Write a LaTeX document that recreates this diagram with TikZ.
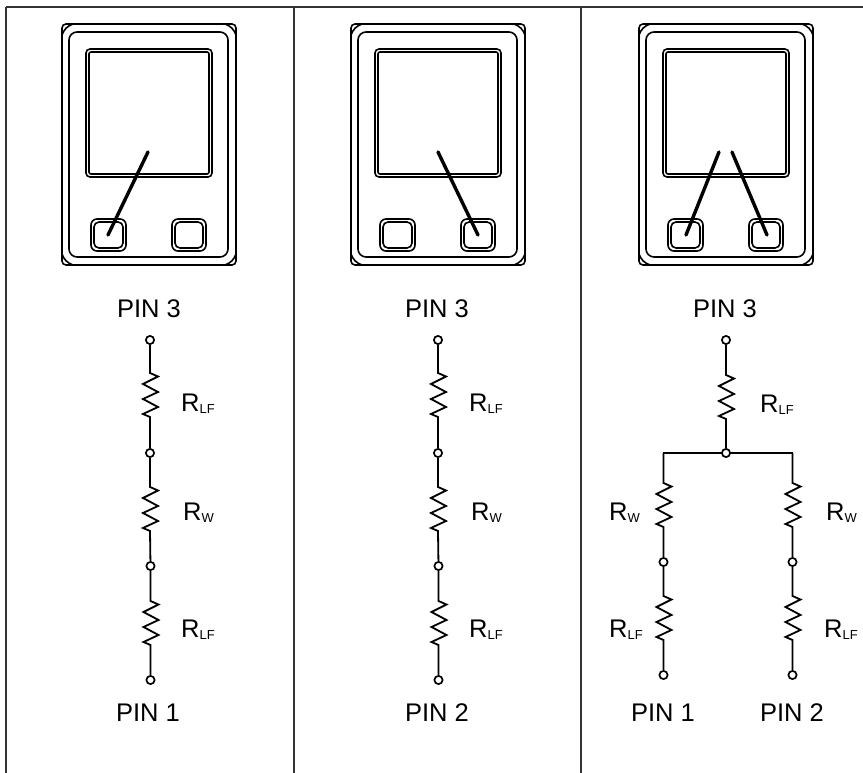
\documentclass[tikz,border=0pt]{standalone}
\usepackage{fontspec}
\setmainfont{Liberation Sans}
\usetikzlibrary{calc}
\tikzset{
  wire/.style={line width=1.8pt,black},
  frameline/.style={line width=1.5pt,black!80},
  bodyline/.style={line width=1.6pt,black},
  pointer/.style={line width=3.4pt,black,line cap=round},
  term/.style={circle,draw=black,line width=1.7pt,fill=white,minimum size=8.2pt,inner sep=0pt},
  pinlabel/.style={font=\fontsize{25.5}{28}\selectfont,inner sep=0pt,anchor=base},
  rlabel/.style={font=\fontsize{25.5}{28}\selectfont,inner sep=0pt,anchor=base west}
}
\newcommand{\resistor}[3]{% from node #1 to node #2, start of zigzag #3 below #1
  \draw[wire,line join=miter] (#1) -- ++(0,#3) -- ++(8,3.5) -- ++(-15,7.5) -- ++(15,8) -- ++(-15,7) -- ++(15,8) -- ++(-15,7) -- ++(7,3) -- (#2);}
\newcommand{\rlf}{R\raisebox{-2.5pt}{\fontsize{13}{14}\selectfont LF}}
\newcommand{\rw}{R\raisebox{-2.5pt}{\fontsize{13}{14}\selectfont W}}
\newcommand{\devbody}{%
  \draw[bodyline,rounded corners=4pt] (62,24) rectangle (236,265);
  \draw[bodyline,rounded corners=8pt] (69,32) rectangle (228,257);
  \draw[bodyline] (62,35) to[bend left=25] (73,24);
  \draw[bodyline] (225,24) to[bend left=25] (236,35);
  \draw[bodyline] (62,254) to[bend right=25] (73,265);
  \draw[bodyline] (225,265) to[bend right=25] (236,254);
  \draw[bodyline,rounded corners=4pt] (86,49) rectangle (212,177);
  \draw[bodyline,rounded corners=2pt] (89,52) rectangle (209,174);
  \draw[bodyline,rounded corners=6pt] (91,219) rectangle (126,251);
  \draw[bodyline,rounded corners=5pt] (94,222) rectangle (123,248);
  \draw[bodyline,rounded corners=6pt] (172,219) rectangle (206,251);
  \draw[bodyline,rounded corners=5pt] (175,222) rectangle (203,248);
}
\begin{document}
\begin{tikzpicture}[x=1pt,y=-1pt]
\useasboundingbox (0,0) rectangle (863,773);
% frame
\coordinate (tl) at (6,7); \coordinate (tr) at (863,7);
\coordinate (m1t) at (294,7); \coordinate (m2t) at (581,7);
\coordinate (lb) at (6,773); \coordinate (m1b) at (294,773); \coordinate (m2b) at (581,773);
\draw[frameline] (tl) -- (tr);
\draw[frameline] (tl) -- (lb);
\draw[frameline] (m1t) -- (m1b);
\draw[frameline] (m2t) -- (m2b);
% devices
\begin{scope}
  \devbody
  \coordinate (p1a) at (148,152); \coordinate (p1b) at (108,235);
  \draw[pointer] (p1a) -- (p1b);
\end{scope}
\begin{scope}[xshift=289pt]
  \devbody
  \coordinate (p2a) at (149,152); \coordinate (p2b) at (189,235);
  \draw[pointer] (p2a) -- (p2b);
\end{scope}
\begin{scope}[xshift=577pt]
  \devbody
  \coordinate (p3a) at (142,152); \coordinate (p3b) at (109,235);
  \coordinate (p4a) at (155,152); \coordinate (p4b) at (190,235);
  \draw[pointer] (p3a) -- (p3b);
  \draw[pointer] (p4a) -- (p4b);
\end{scope}
% column 1
\node[pinlabel] (t13) at (149,317) {PIN 3};
\node[term] (a1) at (150,340) {};
\node[term] (a2) at (150,453) {};
\node[term] (a3) at (150.5,566) {};
\node[term] (a4) at (150.5,680) {};
\resistor{a1}{a2}{33}
\resistor{a2}{a3}{34}
\resistor{a3}{a4}{35}
\node[rlabel] (l11) at (181,411) {\rlf};
\node[rlabel] (l12) at (183,520) {\rw};
\node[rlabel] (l13) at (181,637) {\rlf};
\node[pinlabel] (t11) at (148,721) {PIN 1};
% column 2
\node[pinlabel] (t23) at (437,317) {PIN 3};
\node[term] (b1) at (438,340) {};
\node[term] (b2) at (438,453) {};
\node[term] (b3) at (438.5,566) {};
\node[term] (b4) at (438.5,680) {};
\resistor{b1}{b2}{33}
\resistor{b2}{b3}{34}
\resistor{b3}{b4}{35}
\node[rlabel] (l21) at (469,411) {\rlf};
\node[rlabel] (l22) at (471,520) {\rw};
\node[rlabel] (l23) at (469,637) {\rlf};
\node[pinlabel] (t22) at (437,721) {PIN 2};
% column 3
\node[pinlabel] (t33) at (725,317) {PIN 3};
\node[term] (c1) at (726,340) {};
\node[term] (c2) at (726,453) {};
\node[term] (d3) at (663.5,562) {};
\node[term] (d4) at (663.5,675) {};
\node[term] (e3) at (792.5,562) {};
\node[term] (e4) at (792.5,675) {};
\coordinate (dt) at (663.5,453);
\coordinate (et) at (792.5,453);
\resistor{c1}{c2}{35}
\draw[wire,line cap=rect] (c2) -- (dt);
\draw[wire,line cap=rect] (c2) -- (et);
\resistor{dt}{d3}{30}
\resistor{et}{e3}{30}
\resistor{d3}{d4}{34}
\resistor{e3}{e4}{34}
\node[rlabel] (l31) at (760,412) {\rlf};
\node[rlabel] (l32) at (609,520) {\rw};
\node[rlabel] (l33) at (826,520) {\rw};
\node[rlabel] (l34) at (609,637) {\rlf};
\node[rlabel] (l35) at (824,637) {\rlf};
\node[pinlabel] (t31) at (663,721) {PIN 1};
\node[pinlabel] (t32) at (792,721) {PIN 2};
\end{tikzpicture}
\end{document}
